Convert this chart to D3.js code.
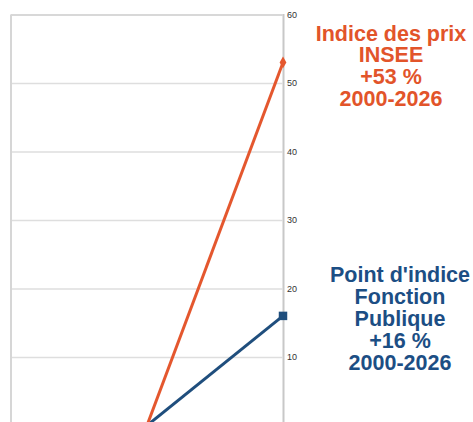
<!DOCTYPE html>
<html>
<head>
<meta charset="utf-8">
<script src="https://cdn.jsdelivr.net/npm/d3@7"></script>
<style>
  body { margin: 0; background: #fff; }
  svg { display: block; }
  .lbl { font-family: "Liberation Sans", Arial, sans-serif; font-weight: bold; font-size: 21.5px; text-anchor: middle; }
</style>
</head>
<body>
<svg id="chart"></svg>
<script>
var width = 473;
var height = 422;

// years on x, increase in % since 2000 on y
var years = [2000, 2026];
var prixInsee = [0, 53];
var pointIndice = [0, 16];
var yTicks = [10, 20, 30, 40, 50, 60];

var prixLabel = ["Indice des prix", "INSEE", "+53 %", "2000-2026"];
var pointLabel = ["Point d'indice", "Fonction", "Publique", "+16 %", "2000-2026"];

var left = 11;
var right = 283;

var xScale = d3.scaleLinear()
               .domain([1974, 2026])
               .range([left, right]);

var yScale = d3.scaleLinear()
               .domain([0, 60])
               .range([425.5, 14.5]);

var svg = d3.select("#chart")
              .attr("width", width)
              .attr("height", height);

var yAxis = d3.axisRight(yScale)
              .tickValues(yTicks)
              .tickSize(-(right - left))
              .tickPadding(4)
              .tickFormat(d3.format("d"));

var gAxis = svg.append("g")
    .attr("transform", "translate(" + right + ",0)")
    .call(yAxis);

gAxis.select(".domain")
    .attr("stroke", "#c8c8c8")
    .attr("stroke-width", 2);

gAxis.selectAll(".tick line")
    .attr("stroke", "#dedede")
    .attr("stroke-width", 1.5);

gAxis.selectAll(".tick text")
    .attr("fill", "#333")
    .style("font-family", "'Liberation Sans', Arial, sans-serif")
    .style("font-size", "9px");

// left border of plot area
svg.append("line")
    .attr("x1", left)
    .attr("x2", left)
    .attr("y1", yScale(60))
    .attr("y2", yScale(0))
    .attr("stroke", "#d6d6d6")
    .attr("stroke-width", 2);

var line = d3.line()
             .x((d, i) => xScale(years[i]))
             .y(d => yScale(d));

svg.append("path")
    .datum(pointIndice)
    .attr("d", line)
    .attr("fill", "none")
    .attr("stroke", "#1f4e7d")
    .attr("stroke-width", 3);

svg.append("path")
    .datum(prixInsee)
    .attr("d", line)
    .attr("fill", "none")
    .attr("stroke", "#e4572e")
    .attr("stroke-width", 3);

// end markers
svg.append("path")
    .attr("d", d3.symbol().type(d3.symbolDiamond).size(40))
    .attr("transform", "translate(" + xScale(years[1]) + "," + yScale(prixInsee[1]) + ")")
    .attr("fill", "#e4572e");

svg.append("path")
    .attr("d", d3.symbol().type(d3.symbolSquare).size(72))
    .attr("transform", "translate(" + xScale(years[1]) + "," + yScale(pointIndice[1]) + ")")
    .attr("fill", "#1f4e7d");

svg.append("text")
    .classed("lbl", true)
    .attr("fill", "#e2542a")
    .selectAll("tspan")
    .data(prixLabel)
    .enter()
    .append("tspan")
      .attr("x", 391)
      .attr("y", (d, i) => 33 + i * 21.7)
      .attr("dy", "0.36em")
      .text(d => d);

svg.append("text")
    .classed("lbl", true)
    .attr("fill", "#1c4e84")
    .selectAll("tspan")
    .data(pointLabel)
    .enter()
    .append("tspan")
      .attr("x", 400)
      .attr("y", (d, i) => 274 + i * 22)
      .attr("dy", "0.36em")
      .text(d => d);
</script>
</body>
</html>
